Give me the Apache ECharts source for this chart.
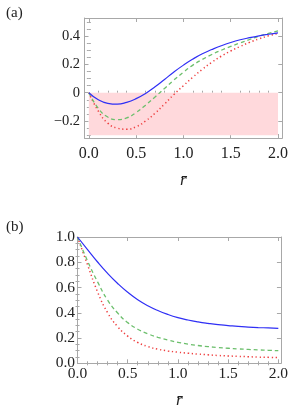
<!DOCTYPE html>
<html><head><meta charset="utf-8">
<script src="https://cdn.jsdelivr.net/npm/echarts@6/dist/echarts.min.js"></script>
<style>html,body{margin:0;padding:0;background:#fff}#c{width:291px;height:419px}</style>
</head><body><div id="c"></div>
<script>
// ---- data ----
var rValues = [0,0.1,0.2,0.3,0.4,0.5,0.6,0.7,0.8,0.9,1.0,1.1,1.2,1.3,1.4,1.5,1.6,1.7,1.8,1.9,2.0];
// panel (a)
var blueA  = [0,-0.05,-0.075,-0.081,-0.068,-0.042,-0.005,0.042,0.094,0.147,0.195,0.238,0.275,0.305,0.332,0.355,0.374,0.389,0.402,0.413,0.423];
var greenA = [0,-0.11,-0.172,-0.19,-0.178,-0.14,-0.088,-0.03,0.03,0.09,0.145,0.195,0.235,0.27,0.3,0.327,0.352,0.376,0.399,0.419,0.437];
var redA   = [0,-0.13,-0.215,-0.25,-0.258,-0.24,-0.2,-0.145,-0.08,-0.012,0.05,0.11,0.165,0.215,0.258,0.295,0.327,0.356,0.381,0.402,0.418];
var shadedRegion = {x0: 0, x1: 2, y0: -0.3, y1: 0};
// panel (b)
var blueB  = [1.0,0.9,0.802,0.712,0.632,0.562,0.503,0.456,0.418,0.387,0.362,0.343,0.328,0.316,0.306,0.299,0.292,0.287,0.283,0.28,0.277];
var greenB = [1.0,0.81,0.645,0.5,0.398,0.322,0.27,0.234,0.206,0.184,0.166,0.152,0.141,0.132,0.125,0.119,0.114,0.11,0.106,0.103,0.1];
var redB   = [1.0,0.78,0.565,0.4,0.29,0.215,0.165,0.133,0.112,0.098,0.088,0.08,0.073,0.067,0.062,0.058,0.055,0.052,0.049,0.047,0.045];
// ticks
var xTickVals = [0,0.5,1.0,1.5,2.0];
var xTickLabels = ['0.0','0.5','1.0','1.5','2.0'];
var xMinorVals = [0.1,0.2,0.3,0.4,0.6,0.7,0.8,0.9,1.1,1.2,1.3,1.4,1.6,1.7,1.8,1.9];
var yTickValsA = [-0.2,0,0.2,0.4];
var yTickLabelsA = ['\u22120.2','0','0.2','0.4'];
var yMinorValsA = [-0.3,-0.25,-0.15,-0.1,-0.05,0.05,0.1,0.15,0.25,0.3,0.35,0.45,0.5];
var yTickValsB = [0,0.2,0.4,0.6,0.8,1.0];
var yTickLabelsB = ['0.0','0.2','0.4','0.6','0.8','1.0'];
var yMinorValsB = [0.05,0.1,0.15,0.25,0.3,0.35,0.45,0.5,0.55,0.65,0.7,0.75,0.85,0.9,0.95];
var xName = 'r\u0304';

function pairs(xs, ys){ return xs.map(function(x,i){ return [x, ys[i]]; }); }

var FONT = 'serif';
var FRAME = '#a8a8a8';

function lookup(vals, labels){
  return function(v){
    for (var i=0;i<vals.length;i++){ if (Math.abs(vals[i]-v)<1e-9) return labels[i]; }
    return '';
  };
}

var xAxes = [], yAxes = [];
function addAxes(list, gi, pos, min, max, major, minor, labels, labelFont, labelMargin, name, nameGap){
  var showLabel = (pos === 'bottom' || pos === 'left');
  list.push({
    type:'value', gridIndex:gi, position:pos, min:min, max:max,
    axisLine:{show:true, onZero:false, lineStyle:{color:FRAME, width:1}},
    axisTick:{show:true, inside:true, length:4, lineStyle:{color:FRAME}, customValues: major},
    axisLabel:{show:showLabel, customValues: major, formatter: lookup(major, labels),
      fontFamily:FONT, fontSize:labelFont, color:'#222', margin:labelMargin},
    splitLine:{show:false},
    name: (showLabel && name) ? name : '', nameLocation:'middle', nameGap: nameGap || 0,
    nameTextStyle:{fontFamily:FONT, fontStyle:'italic', fontSize:17, color:'#222'}
  });
  list.push({
    type:'value', gridIndex:gi, position:pos, min:min, max:max,
    axisLine:{show:false},
    axisTick:{show:true, inside:true, length:2, lineStyle:{color:FRAME}, customValues: minor},
    axisLabel:{show:false}, splitLine:{show:false}
  });
}

// grid 0 (a): axes 0..3
addAxes(xAxes, 0, 'bottom', -0.046, 2.045, xTickVals, xMinorVals, xTickLabels, 16, 8, xName, 34);
addAxes(xAxes, 0, 'top', -0.046, 2.045, xTickVals, xMinorVals, xTickLabels, 16, 8);
addAxes(yAxes, 0, 'left', -0.32, 0.528, yTickValsA, yMinorValsA, yTickLabelsA, 14.5, 4.5);
addAxes(yAxes, 0, 'right', -0.32, 0.528, yTickValsA, yMinorValsA, yTickLabelsA, 14.5, 4.5);
// grid 1 (b): axes 4..7
addAxes(xAxes, 1, 'bottom', 0, 2.026, xTickVals, xMinorVals, xTickLabels, 15.5, 3, xName, 29);
addAxes(xAxes, 1, 'top', 0, 2.026, xTickVals, xMinorVals, xTickLabels, 15.5, 3);
addAxes(yAxes, 1, 'left', 0, 1, yTickValsB, yMinorValsB, yTickLabelsB, 15.5, 2.5);
addAxes(yAxes, 1, 'right', 0, 1, yTickValsB, yMinorValsB, yTickLabelsB, 15.5, 2.5);

function lineSeries(xi, yi, data, color, type, width, z){
  return {type:'line', xAxisIndex:xi, yAxisIndex:yi, data:data, showSymbol:false, symbol:'none',
    smooth:0.5, silent:true, animation:false, z:z||3,
    lineStyle:{color:color, width:width, type:type}};
}
var BLUE = '#2f2ff5', GREEN = '#6cbf6c', RED = '#ee4040';
var series = [
  {type:'line', xAxisIndex:0, yAxisIndex:0, data:[], silent:true, animation:false,
    markArea:{silent:true, itemStyle:{color:'#ffd9dc'},
      data:[[{coord:[shadedRegion.x0, shadedRegion.y1]},{coord:[shadedRegion.x1, shadedRegion.y0]}]]}},
  lineSeries(0, 0, pairs(rValues, redA), RED, [1.3,2.7], 1.5, 3),
  lineSeries(0, 0, pairs(rValues, greenA), GREEN, [4,3], 1.3, 4),
  lineSeries(0, 0, pairs(rValues, blueA), BLUE, 'solid', 1.2, 5),
  lineSeries(4, 4, pairs(rValues, redB), RED, [1.3,2.7], 1.5, 3),
  lineSeries(4, 4, pairs(rValues, greenB), GREEN, [4,3], 1.3, 4),
  lineSeries(4, 4, pairs(rValues, blueB), BLUE, 'solid', 1.2, 5)
];

var chart = echarts.init(document.getElementById('c'), null, {renderer:'canvas'});
chart.setOption({
  animation:false,
  backgroundColor:'#fff',
  textStyle:{fontFamily:FONT},
  title:[
    {text:'(a)', left:1, top:1, textStyle:{fontFamily:FONT, fontSize:15, fontWeight:'normal', color:'#222'}},
    {text:'(b)', left:1, top:215, textStyle:{fontFamily:FONT, fontSize:15, fontWeight:'normal', color:'#222'}}
  ],
  grid:[
    {left:84.5, top:18, width:198.8, height:120},
    {left:77.5, top:237, width:205.8, height:126.3}
  ],
  xAxis:xAxes, yAxis:yAxes, series:series
});
</script></body></html>
